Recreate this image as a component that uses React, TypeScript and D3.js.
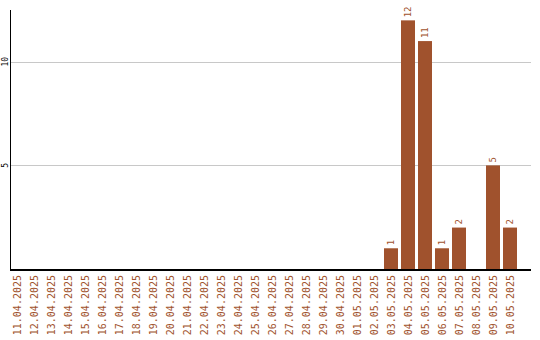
import React from "react";
import * as d3 from "d3";

const dates = [
  "11.04.2025", "12.04.2025", "13.04.2025", "14.04.2025", "15.04.2025",
  "16.04.2025", "17.04.2025", "18.04.2025", "19.04.2025", "20.04.2025",
  "21.04.2025", "22.04.2025", "23.04.2025", "24.04.2025", "25.04.2025",
  "26.04.2025", "27.04.2025", "28.04.2025", "29.04.2025", "30.04.2025",
  "01.05.2025", "02.05.2025", "03.05.2025", "04.05.2025", "05.05.2025",
  "06.05.2025", "07.05.2025", "08.05.2025", "09.05.2025", "10.05.2025",
];
const counts = [
  0, 0, 0, 0, 0, 0, 0, 0, 0, 0,
  0, 0, 0, 0, 0, 0, 0, 0, 0, 0,
  0, 0, 1, 12, 11, 1, 2, 0, 5, 2,
];
const yTicks = [5, 10];

const W = 540;
const H = 340;
const left = 10;
const right = 531;
const top = 10;
const bottom = 269;
const color = "#A0522D";
const mono = "'DejaVu Sans Mono', monospace";

export default function App() {
  const x = d3.scaleBand<string>().domain(dates).range([left, left + dates.length * 17]);
  const y = d3.scaleLinear().domain([0, 12.5]).range([bottom, top]);
  const barW = x.bandwidth() - 3;

  return (
    <svg
      width={W}
      height={H}
      style={{ position: "absolute", left: 0, top: 0, display: "block", background: "#fff" }}
    >
      {yTicks.map((t) => (
        <g key={t}>
          <line
            x1={left}
            x2={right}
            y1={Math.round(y(t)) + 0.5}
            y2={Math.round(y(t)) + 0.5}
            stroke="#c8c8c8"
            strokeWidth={1}
          />
          <text
            transform={`translate(5,${y(t)}) rotate(-90)`}
            textAnchor="middle"
            dy="0.35em"
            fontFamily={mono}
            fontSize={8}
            fill="#000"
          >
            {t}
          </text>
        </g>
      ))}
      {dates.map((d, i) => {
        const v = counts[i];
        const bx = x(d)!;
        const cx = bx + barW / 2;
        return (
          <g key={d}>
            {v > 0 && (
              <>
                <rect x={bx} y={y(v)} width={barW} height={y(0) - y(v)} fill={color} />
                <text
                  transform={`translate(${cx},${y(v) - 3}) rotate(-90)`}
                  textAnchor="start"
                  dy="0.35em"
                  fontFamily={mono}
                  fontSize={9}
                  fill={color}
                >
                  {v}
                </text>
              </>
            )}
            <text
              transform={`translate(${cx},275) rotate(-90)`}
              textAnchor="end"
              dy="0.35em"
              fontFamily={mono}
              fontSize={10}
              fill={color}
            >
              {d}
            </text>
          </g>
        );
      })}
      <line x1={10.5} x2={10.5} y1={top} y2={bottom + 1.5} stroke="#000" strokeWidth={1} />
      <line x1={10} x2={right} y1={bottom + 1} y2={bottom + 1} stroke="#000" strokeWidth={2} />
    </svg>
  );
}
